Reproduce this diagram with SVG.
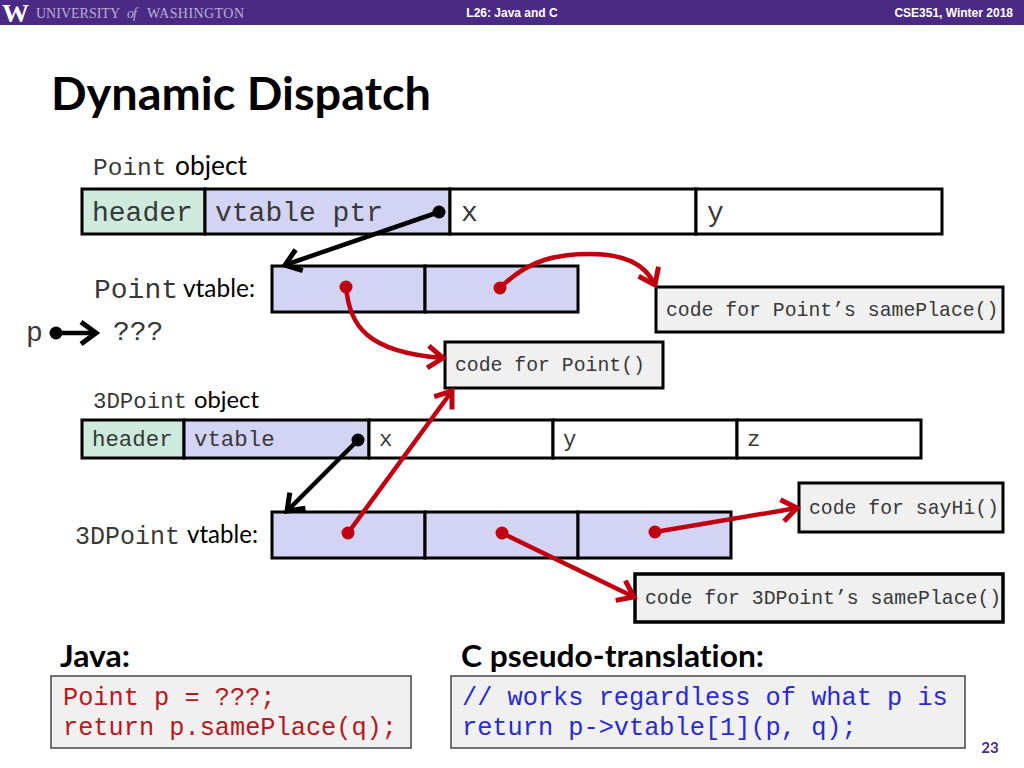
<svg xmlns="http://www.w3.org/2000/svg" width="1024" height="768" viewBox="0 0 1024 768">
<style>
text{font-variant-ligatures:none}
.m{font-family:"Liberation Mono",monospace;fill:#383838}
.s{font-family:Lato,"Open Sans",sans-serif;fill:#000}
.b{font-family:Lato,"Open Sans",sans-serif;font-weight:700;fill:#000}
.h{font-family:"Liberation Sans",Arial,sans-serif;font-weight:700;font-size:12px;fill:#fff}
.u{font-family:"Liberation Serif",serif;font-size:14px;fill:#b9aed4}
.c{stroke:#000;stroke-width:3}
.g{fill:#cdeadd}.v{fill:#d3d3f3}.w{fill:#fff}.k{fill:#f0f0f0}
.bk{stroke:#000;stroke-width:4.5;fill:none}
.rd{stroke:#c00010;stroke-width:4.5;fill:none}
</style>
<defs>
<marker id="ak" markerUnits="userSpaceOnUse" markerWidth="26" markerHeight="28" refX="21" refY="14" orient="auto"><path d="M6 3L21 14L6 25" fill="none" stroke="#000" stroke-width="5"/></marker>
<marker id="ar" markerUnits="userSpaceOnUse" markerWidth="26" markerHeight="28" refX="21" refY="14" orient="auto"><path d="M6 3L21 14L6 25" fill="none" stroke="#c00010" stroke-width="5"/></marker>
</defs>
<rect width="1024" height="768" fill="#fff"/>
<g id="header">
<rect width="1024" height="25" fill="#4b2a85"/>
<text x="2" y="22" font-family="Liberation Serif,serif" font-weight="700" font-size="24.7" fill="#fff" textLength="27" lengthAdjust="spacingAndGlyphs">W</text>
<text x="36" y="18" class="u" textLength="84">UNIVERSITY</text>
<text x="127" y="18" class="u" font-style="italic" textLength="10">of</text>
<text x="147" y="18" class="u" textLength="97">WASHINGTON</text>
<text x="512" y="17" text-anchor="middle" class="h">L26: Java and C</text>
<text x="1013" y="17" text-anchor="end" class="h">CSE351, Winter 2018</text>
</g>
<text id="title" x="51" y="110" class="b" font-size="46" textLength="380" lengthAdjust="spacingAndGlyphs">Dynamic Dispatch</text>

<g id="point-label"><text x="93" y="175" class="m" font-size="24.5">Point</text><text x="175" y="175" class="s" font-size="26" textLength="72" lengthAdjust="spacingAndGlyphs">object</text></g>
<g id="point-object">
<rect x="82" y="189" width="123" height="45" class="g c"/>
<rect x="205" y="189" width="245" height="45" class="v c"/>
<rect x="450" y="189" width="246" height="45" class="w c"/>
<rect x="696" y="189" width="246" height="45" class="w c"/>
<text x="92" y="221" class="m" font-size="28">header</text>
<text x="215" y="221" class="m" font-size="28">vtable ptr</text>
<text x="461" y="221" class="m" font-size="28">x</text>
<text x="707" y="221" class="m" font-size="28">y</text>
</g>
<g id="point-vtable-label"><text x="94" y="298" class="m" font-size="28">Point</text><text x="183" y="297" class="s" font-size="24.5" textLength="72" lengthAdjust="spacingAndGlyphs">vtable:</text></g>
<g id="point-vtable">
<rect x="272" y="266" width="153" height="46" class="v c"/>
<rect x="425" y="266" width="153" height="46" class="v c"/>
</g>
<g id="code-point-sameplace">
<rect x="656" y="287" width="347" height="45" class="k c"/>
<text x="666" y="316" class="m" font-size="19.8">code for Point’s samePlace()</text>
</g>
<g id="p-label"><text x="26" y="341" class="m" font-size="28">p</text><text x="113" y="340" class="m" font-size="28">???</text></g>
<g id="code-point">
<rect x="445" y="342" width="218" height="46" class="k c"/>
<text x="455" y="371" class="m" font-size="19.8">code for Point()</text>
</g>
<g id="3dpoint-label"><text x="93" y="408" class="m" font-size="22.4">3DPoint</text><text x="194" y="408" class="s" font-size="24" textLength="65" lengthAdjust="spacingAndGlyphs">object</text></g>
<g id="3dpoint-object">
<rect x="82" y="420" width="102" height="38" class="g c"/>
<rect x="184" y="420" width="185" height="38" class="v c"/>
<rect x="369" y="420" width="184" height="38" class="w c"/>
<rect x="553" y="420" width="184" height="38" class="w c"/>
<rect x="737" y="420" width="184" height="38" class="w c"/>
<text x="92" y="446" class="m" font-size="22.4">header</text>
<text x="194" y="446" class="m" font-size="22.4">vtable</text>
<text x="379" y="446" class="m" font-size="22.4">x</text>
<text x="563" y="446" class="m" font-size="22.4">y</text>
<text x="747" y="446" class="m" font-size="22.4">z</text>
</g>
<g id="code-sayhi">
<rect x="799" y="483" width="204" height="49" class="k c"/>
<text x="809" y="514" class="m" font-size="19.8">code for sayHi()</text>
</g>
<g id="3dpoint-vtable-label"><text x="75" y="544" class="m" font-size="25">3DPoint</text><text x="187" y="543" class="s" font-size="24.5" textLength="71" lengthAdjust="spacingAndGlyphs">vtable:</text></g>
<g id="3dpoint-vtable">
<rect x="272" y="512" width="153" height="46" class="v c"/>
<rect x="425" y="512" width="153" height="46" class="v c"/>
<rect x="578" y="512" width="153" height="46" class="v c"/>
</g>
<g id="code-3dpoint-sameplace">
<rect x="635" y="574" width="368" height="48" class="k" stroke="#000" stroke-width="3.5"/>
<text x="645" y="604" class="m" font-size="19.8">code for 3DPoint’s samePlace()</text>
</g>

<g id="connectors">
<path d="M439 212L285 265" class="bk" marker-end="url(#ak)"/>
<circle cx="439" cy="212" r="6.5" fill="#000"/>
<path d="M56 333H96" class="bk" marker-end="url(#ak)"/>
<circle cx="56" cy="333" r="6.5" fill="#000"/>
<path d="M358 440L287 511" class="bk" marker-end="url(#ak)"/>
<circle cx="358" cy="440" r="6.5" fill="#000"/>
<path d="M346 287C350 325 365 352 443 358" class="rd" marker-end="url(#ar)"/>
<circle cx="346" cy="287" r="6.5" fill="#c00010"/>
<path d="M500 288C530 258 560 254 590 254C625 254 645 264 655 285" class="rd" marker-end="url(#ar)"/>
<circle cx="500" cy="288" r="6.5" fill="#c00010"/>
<path d="M348 533L452 391" class="rd" marker-end="url(#ar)"/>
<circle cx="348" cy="533" r="6.5" fill="#c00010"/>
<path d="M502 533L634 597" class="rd" marker-end="url(#ar)"/>
<circle cx="502" cy="533" r="6.5" fill="#c00010"/>
<path d="M655 532L797 508" class="rd" marker-end="url(#ar)"/>
<circle cx="655" cy="532" r="6.5" fill="#c00010"/>
</g>

<g id="java">
<text x="60" y="667" class="b" font-size="31" textLength="70" lengthAdjust="spacingAndGlyphs">Java:</text>
<rect x="51" y="676" width="360" height="72" fill="#f0f0f0" stroke="#444" stroke-width="1.5"/>
<text x="63" y="705" class="m" font-size="25.3" style="fill:#b81820">Point p = ???;</text>
<text x="63" y="735" class="m" font-size="25.3" style="fill:#b81820">return p.samePlace(q);</text>
</g>
<g id="c-translation">
<text x="461" y="667" class="b" font-size="31" textLength="303" lengthAdjust="spacingAndGlyphs">C pseudo-translation:</text>
<rect x="451" y="676" width="514" height="72" fill="#f0f0f0" stroke="#444" stroke-width="1.5"/>
<text x="462" y="705" class="m" font-size="25.3" style="fill:#2a2ad0">// works regardless of what p is</text>
<text x="462" y="735" class="m" font-size="25.3" style="fill:#2a2ad0">return p-&gt;vtable[1](p, q);</text>
</g>
<text id="page" x="990" y="753" text-anchor="middle" class="b" font-size="15" style="fill:#4b2a85">23</text>
</svg>
